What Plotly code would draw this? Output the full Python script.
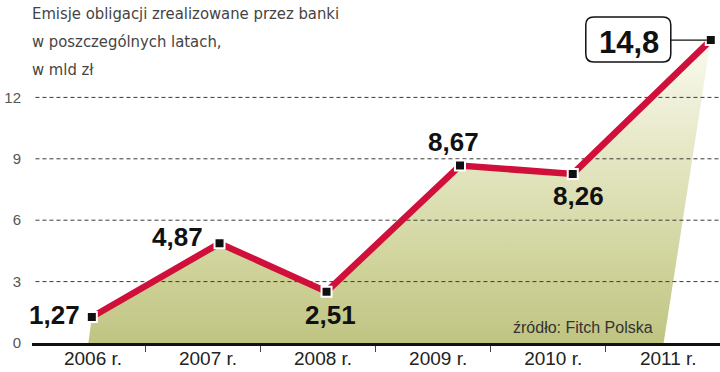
import plotly.graph_objects as go

# ---- data ----
years = [2006, 2007, 2008, 2009, 2010, 2011]
year_labels = ["2006 r.", "2007 r.", "2008 r.", "2009 r.", "2010 r.", "2011 r."]
values = [1.27, 4.87, 2.51, 8.67, 8.26, 14.8]
value_labels = ["1,27", "4,87", "2,51", "8,67", "8,26", "14,8"]
# horizontal placement of each point (in year units)
point_x = [2005.99, 2007.10, 2008.03, 2009.19, 2010.17, 2011.37]
y_ticks = [0, 3, 6, 9, 12]
title_lines = ["Emisje obligacji zrealizowane przez banki",
               "w poszczególnych latach,",
               "w mld zł"]
source_text = "źródło: Fitch Polska"

SANS = "Liberation Sans, Arial, sans-serif"
COND = "DejaVu Sans Condensed, Liberation Sans, sans-serif"
RED = "#d0103a"

X_RANGE = [2005.47, 2011.45]
Y_RANGE = [0, 15]

fig = go.Figure()

# area under the line (gradient)
fig.add_trace(go.Scatter(
    x=point_x + [point_x[-1] - 0.41, point_x[0] - 0.03],
    y=values + [0, 0],
    mode="lines", line=dict(width=0),
    fill="toself",
    fillgradient=dict(type="vertical", start=0, stop=14.8,
                      colorscale=[[0, "#c0c482"], [0.25, "#cfd39a"],
                                  [0.55, "#e1e3bc"], [1, "#fafaf0"]]),
    hoverinfo="skip", showlegend=False,
))

# dashed grid lines (above the fill, below the line)
for t in y_ticks[1:]:
    fig.add_trace(go.Scatter(
        x=[X_RANGE[0] + 0.03, X_RANGE[1]], y=[t, t], mode="lines",
        line=dict(color="#3a3a3a", width=1, dash="4px,3px"),
        hoverinfo="skip", showlegend=False,
    ))

# red line
fig.add_trace(go.Scatter(
    x=point_x, y=values, mode="lines",
    line=dict(color=RED, width=6.5),
    hoverinfo="skip", showlegend=False,
))
# markers
fig.add_trace(go.Scatter(
    x=point_x, y=values, mode="markers",
    marker=dict(symbol="square", size=10, color="#111111",
                line=dict(color="white", width=2)),
    hoverinfo="skip", showlegend=False,
))

# value labels
offsets = [  # (xshift, yshift, xanchor)
    (-10, 2, "right"),
    (-15, 6, "right"),
    (4, -23, "center"),
    (-6, 24, "center"),
    (6, -22, "center"),
]
for i in range(5):
    dx, dy, xa = offsets[i]
    fig.add_annotation(x=point_x[i], y=values[i], text=value_labels[i],
                       showarrow=False, xanchor=xa, yanchor="middle",
                       xshift=dx, yshift=dy,
                       font=dict(family=SANS, size=26, color="#111111", weight="bold"))

# 14,8 callout box (paper-anchored so it is not clipped by the plot area)
ax = (point_x[-1] - X_RANGE[0]) / (X_RANGE[1] - X_RANGE[0])
ay = (values[-1] - Y_RANGE[0]) / (Y_RANGE[1] - Y_RANGE[0])
fig.add_shape(type="path", xref="paper", yref="paper", xsizemode="pixel", ysizemode="pixel",
              xanchor=ax, yanchor=ay,
              path="M -117 23 L -48 23 Q -40 23 -40 15 L -40 -14 Q -40 -22 -48 -22 "
                   "L -117 -22 Q -125 -22 -125 -14 L -125 15 Q -125 23 -117 23 Z",
              line=dict(color="#111111", width=1.5), fillcolor="white", layer="above")
fig.add_shape(type="line", xref="paper", yref="paper", xsizemode="pixel", ysizemode="pixel",
              xanchor=ax, yanchor=ay,
              x0=-40, x1=-4, y0=0, y1=0,
              line=dict(color="#111111", width=1.2), layer="above")
fig.add_annotation(x=point_x[-1], y=values[-1], text=value_labels[-1], showarrow=False,
                   xanchor="center", yanchor="middle", xshift=-82, yshift=-2,
                   font=dict(family=SANS, size=31, color="#111111", weight="bold"))

# title
for i, line in enumerate(title_lines):
    fig.add_annotation(xref="paper", yref="paper", x=-0.003,
                       y=(343 - (14 + 27.5 * i)) / 307,
                       text=line, showarrow=False, xanchor="left", yanchor="middle",
                       font=dict(family=COND, size=16.5, color="#444444"))

# source
fig.add_annotation(xref="paper", yref="paper", x=(583 - 32) / 688, y=(343 - 327) / 307,
                   text=source_text, showarrow=False, xanchor="center", yanchor="middle",
                   font=dict(family=SANS, size=16, color="#333333"))

fig.update_layout(
    width=720, height=372,
    margin=dict(l=32, r=0, t=36, b=29),
    paper_bgcolor="white", plot_bgcolor="white",
    showlegend=False,
    xaxis=dict(range=X_RANGE, tickmode="array", tickvals=years, ticktext=year_labels,
               showgrid=False, zeroline=False, showline=True, linecolor="#111111",
               linewidth=3, ticks="", ticklabelstandoff=-4,
               tickfont=dict(family=SANS, size=19, color="#222222"),
               minor=dict(ticks="outside", tick0=2005.455, dtick=1, ticklen=6,
                          tickwidth=1, tickcolor="#444444", showgrid=False)),
    yaxis=dict(range=Y_RANGE, tickmode="array", tickvals=y_ticks,
               ticktext=[str(t) for t in y_ticks],
               showgrid=False, zeroline=False, showline=False, ticks="",
               ticklabelstandoff=10,
               tickfont=dict(family=SANS, size=15, color="#555555")),
)

fig.write_html("out.html", config={"displayModeBar": False},
               post_script="document.body.style.margin='0';")
